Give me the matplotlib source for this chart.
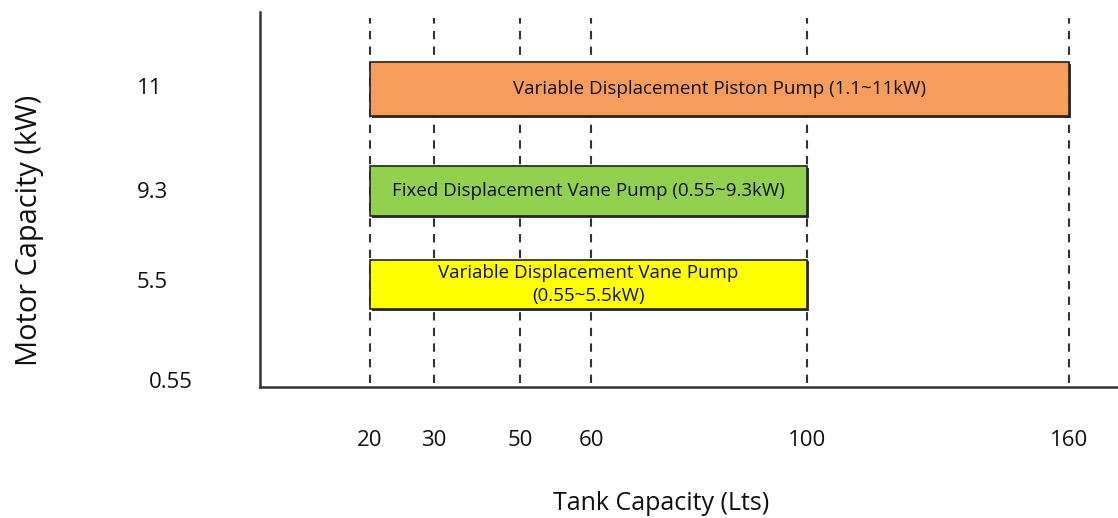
import numpy as np
import matplotlib
matplotlib.use("Agg")
import matplotlib.pyplot as plt
import matplotlib.patheffects as pe

plt.rcParams['font.family'] = ['Open Sans', 'DejaVu Sans']

# Chart data
tank_ticks = [20, 30, 50, 60, 100, 160]          # Lts
motor_ticks = [0.55, 5.5, 9.3, 11]                # kW
pump_names = [
    "Variable Displacement Piston Pump (1.1~11kW)",
    "Fixed Displacement Vane Pump (0.55~9.3kW)",
    "Variable Displacement Vane Pump\n(0.55~5.5kW)",
]
pump_tank_min = [20, 20, 20]
pump_tank_max = [160, 100, 100]
pump_motor_max = [11, 9.3, 5.5]
pump_colors = ['#F79D5B', '#92D050', '#FFFF00']

# Layout: the original chart is not to scale, so the axes are piecewise-linear
# (anchor values -> pixel positions in the 1118x518 picture)
x_anchor_vals = [0] + tank_ticks + [180]
x_anchor_px = [260, 370, 434, 520, 591, 807, 1069, 1118]
y_anchor_idx = [-0.04, 0, 1, 2, 3, 3.74]
y_anchor_px = [387, 383, 283, 193, 89, 12]


def piecewise(vals, px, flip=False):
    vals = np.asarray(vals, float)
    px = np.asarray(px, float)
    if flip:
        px = -px
    if px[0] > px[-1]:
        vals, px = vals[::-1], px[::-1]
    fwd = lambda v: np.interp(v, vals, px)
    inv = lambda p: np.interp(p, px, vals)
    return fwd, inv


W, H = 1118, 518
fig = plt.figure(figsize=(W / 100, H / 100), dpi=100)
ax = fig.add_axes([260 / W, 1 - 387 / H, (W - 260) / W, (387 - 12) / H])

ax.set_xscale('function', functions=piecewise(x_anchor_vals, x_anchor_px))
ax.set_yscale('function', functions=piecewise(y_anchor_idx, y_anchor_px, flip=True))
ax.set_xlim(x_anchor_vals[0], x_anchor_vals[-1])
ax.set_ylim(y_anchor_idx[0], y_anchor_idx[-1])

# dashed guide lines at each tank size
for t in tank_ticks:
    ax.axvline(t, ymin=0.01, ymax=0.984, color='#333333', lw=1.5,
               ls=(0, (4, 3.5)), zorder=1)

# pump range bars
rows = [motor_ticks.index(m) for m in pump_motor_max]
bars = ax.barh(rows, np.array(pump_tank_max) - np.array(pump_tank_min),
               left=pump_tank_min, height=0.52, color=pump_colors,
               edgecolor='#222222', linewidth=1.2, zorder=3)
for bar, name in zip(bars, pump_names):
    bar.set_path_effects([pe.SimplePatchShadow(offset=(1.2, -1.2), shadow_rgbFace='#222222', alpha=0.9),
                          pe.Normal()])
    ax.annotate(name, xy=(0.5, 0.5), xycoords=bar, ha='center', va='center',
                fontsize=13.5, color='#111111', zorder=4, linespacing=1.4)

# axes styling
for side in ['top', 'right']:
    ax.spines[side].set_visible(False)
for side in ['left', 'bottom']:
    ax.spines[side].set_color('#333333')
    ax.spines[side].set_linewidth(1.8)

ax.set_xticks(tank_ticks)
ax.set_xticklabels([str(t) for t in tank_ticks], fontsize=16, color='#111111')
ax.xaxis.set_minor_locator(plt.NullLocator())
ax.tick_params(axis='x', length=0, pad=31)
ax.set_yticks([])
ax.yaxis.set_minor_locator(plt.NullLocator())

# motor capacity labels, placed left of the axis like the original
label_x = [-0.129, -0.1434, -0.1434, -0.1434]
for i, (m, lx) in enumerate(zip(motor_ticks, label_x)):
    ax.text(lx, i, f'{m:g}', transform=ax.get_yaxis_transform(),
            ha='left', va='center', fontsize=16, color='#111111')

fig.text(661 / W, 1 - 503 / H, 'Tank Capacity (Lts)', ha='center', va='center',
         fontsize=18, color='#111111')
fig.text(30 / W, 1 - 230 / H, 'Motor Capacity (kW)', ha='center', va='center',
         rotation=90, fontsize=20.8, color='#111111')

fig.savefig('out.png', dpi=100, facecolor='white')
